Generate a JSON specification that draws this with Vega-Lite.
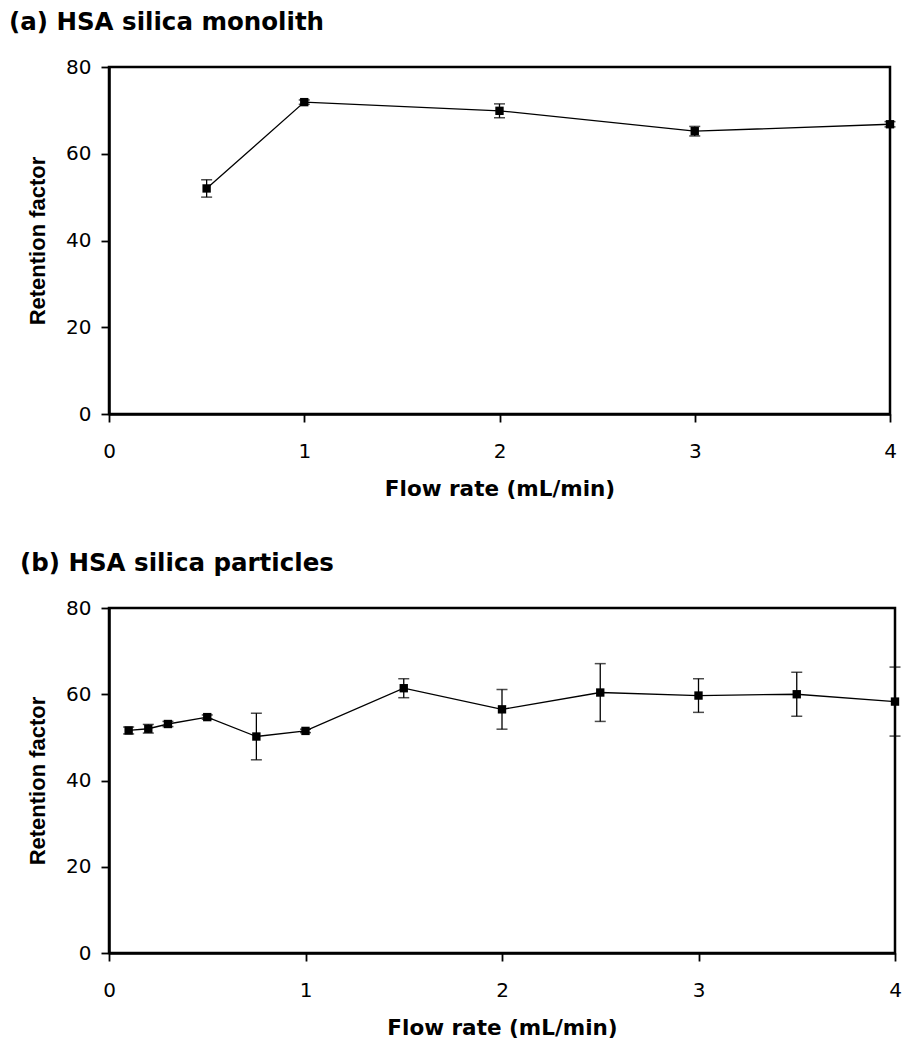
{
  "$schema": "https://vega.github.io/schema/vega-lite/v6.json",
  "background": "white",
  "padding": {"left": 7, "top": 8, "right": 5, "bottom": 5},
  "config": {
    "font": "DejaVu Sans",
    "view": {"stroke": "black", "strokeWidth": 2.5},
    "axis": {
      "grid": false,
      "domainColor": "black",
      "domainWidth": 2.5,
      "tickColor": "black",
      "tickWidth": 1.8,
      "tickSize": 8,
      "labelColor": "black",
      "labelFont": "DejaVu Sans",
      "labelFontSize": 20,
      "labelFlush": false,
      "titleColor": "black",
      "titleFontWeight": "bold"
    },
    "title": {"font": "DejaVu Sans", "fontSize": 24.5, "fontWeight": "bold", "color": "black", "anchor": "start", "frame": "group"},
    "concat": {"spacing": 48}
  },
  "datasets": {
    "a": [
      {"flow": 0.5, "k": 52.0, "lo": 50.0, "hi": 54.0},
      {"flow": 1, "k": 71.9, "lo": 71.4, "hi": 72.4},
      {"flow": 2, "k": 69.9, "lo": 68.3, "hi": 71.5},
      {"flow": 3, "k": 65.2, "lo": 64.1, "hi": 66.3},
      {"flow": 4, "k": 66.8, "lo": 66.2, "hi": 67.4}
    ],
    "b": [
      {"flow": 0.1, "k": 51.6, "lo": 50.8, "hi": 52.4},
      {"flow": 0.2, "k": 52.0, "lo": 51.0, "hi": 53.0},
      {"flow": 0.3, "k": 53.1, "lo": 52.5, "hi": 53.7},
      {"flow": 0.5, "k": 54.7, "lo": 54.2, "hi": 55.2},
      {"flow": 0.75, "k": 50.2, "lo": 44.8, "hi": 55.6},
      {"flow": 1, "k": 51.5, "lo": 51.1, "hi": 51.9},
      {"flow": 1.5, "k": 61.4, "lo": 59.2, "hi": 63.6},
      {"flow": 2, "k": 56.5, "lo": 51.9, "hi": 61.1},
      {"flow": 2.5, "k": 60.4, "lo": 53.7, "hi": 67.1},
      {"flow": 3, "k": 59.7, "lo": 55.8, "hi": 63.6},
      {"flow": 3.5, "k": 60.0, "lo": 54.9, "hi": 65.1},
      {"flow": 4, "k": 58.3, "lo": 50.3, "hi": 66.3}
    ]
  },
  "vconcat": [
    {
      "title": {"text": "(a) HSA silica monolith", "dx": -100, "offset": 21.5},
      "width": 781,
      "height": 347,
      "data": {"name": "a"},
      "encoding": {
        "x": {"field": "flow", "type": "quantitative", "scale": {"domain": [0, 4], "nice": false}, "axis": {"values": [0, 1, 2, 3, 4], "title": "Flow rate (mL/min)", "titleFont": "DejaVu Sans", "titleFontSize": 21.5, "labelPadding": 19, "titlePadding": 17}}
      },
      "layer": [
        {"mark": {"type": "line", "color": "black", "strokeWidth": 1.3},
         "encoding": {"y": {"field": "k", "type": "quantitative", "scale": {"domain": [0, 80], "nice": false}, "axis": {"values": [0, 20, 40, 60, 80], "title": "Retention factor", "titleFont": "Liberation Sans", "titleFontSize": 22, "labelPadding": 10, "titlePadding": 16}}}},
        {"mark": {"type": "rule", "color": "black", "strokeWidth": 1.3},
         "encoding": {"y": {"field": "lo", "type": "quantitative"}, "y2": {"field": "hi"}}},
        {"mark": {"type": "tick", "orient": "horizontal", "color": "black", "size": 11, "thickness": 1.5},
         "encoding": {"y": {"field": "lo", "type": "quantitative"}}},
        {"mark": {"type": "tick", "orient": "horizontal", "color": "black", "size": 11, "thickness": 1.5},
         "encoding": {"y": {"field": "hi", "type": "quantitative"}}},
        {"mark": {"type": "point", "shape": "square", "filled": true, "color": "black", "size": 70, "opacity": 1},
         "encoding": {"y": {"field": "k", "type": "quantitative"}}}
      ]
    },
    {
      "title": {"text": "(b) HSA silica particles", "dx": -89, "offset": 21.5},
      "width": 786,
      "height": 345,
      "data": {"name": "b"},
      "encoding": {
        "x": {"field": "flow", "type": "quantitative", "scale": {"domain": [0, 4], "nice": false}, "axis": {"values": [0, 1, 2, 3, 4], "title": "Flow rate (mL/min)", "titleFont": "DejaVu Sans", "titleFontSize": 21.5, "labelPadding": 19, "titlePadding": 17}}
      },
      "layer": [
        {"mark": {"type": "line", "color": "black", "strokeWidth": 1.3},
         "encoding": {"y": {"field": "k", "type": "quantitative", "scale": {"domain": [0, 80], "nice": false}, "axis": {"values": [0, 20, 40, 60, 80], "title": "Retention factor", "titleFont": "Liberation Sans", "titleFontSize": 22, "labelPadding": 10, "titlePadding": 16}}}},
        {"mark": {"type": "rule", "color": "black", "strokeWidth": 1.3},
         "encoding": {"y": {"field": "lo", "type": "quantitative"}, "y2": {"field": "hi"}}},
        {"mark": {"type": "tick", "orient": "horizontal", "color": "black", "size": 11, "thickness": 1.5},
         "encoding": {"y": {"field": "lo", "type": "quantitative"}}},
        {"mark": {"type": "tick", "orient": "horizontal", "color": "black", "size": 11, "thickness": 1.5},
         "encoding": {"y": {"field": "hi", "type": "quantitative"}}},
        {"mark": {"type": "point", "shape": "square", "filled": true, "color": "black", "size": 70, "opacity": 1},
         "encoding": {"y": {"field": "k", "type": "quantitative"}}}
      ]
    }
  ]
}
